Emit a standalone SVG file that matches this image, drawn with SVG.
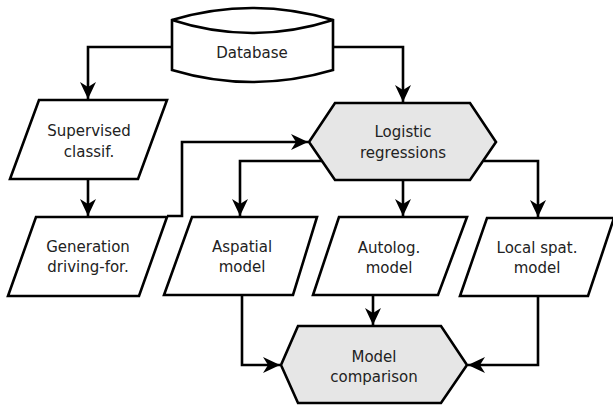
<svg xmlns="http://www.w3.org/2000/svg" width="613" height="410" viewBox="0 0 613 410">
  <style>
    .shape { fill: #ffffff; stroke: #000000; stroke-width: 2.6; stroke-linejoin: miter; }
    .proc { fill: #e6e6e6; stroke: #000000; stroke-width: 2.6; }
    .label { font-family: "DejaVu Sans", Verdana, sans-serif; font-size: 15px; fill: #222222; text-anchor: middle; }
    .link { fill: none; stroke: #000000; stroke-width: 2.6; }
  </style>
  <defs>
    <marker id="arrow" markerUnits="userSpaceOnUse" markerWidth="18" markerHeight="18" viewBox="0 0 18 18" refX="17" refY="9" orient="auto">
      <path d="M0,1 L17,9 L0,17 L5,9 z" fill="#000000"/>
    </marker>
  </defs>
  <rect width="613" height="410" fill="#ffffff"/>

  <!-- connectors -->
  <g id="connectors">
    <path class="link" d="M172,47 H88 V99" marker-end="url(#arrow)"/>
    <path class="link" d="M333,47 H403 V102" marker-end="url(#arrow)"/>
    <path class="link" d="M88,179 V216" marker-end="url(#arrow)"/>
    <path class="link" d="M167,216 H182 V142 H308" marker-end="url(#arrow)"/>
    <path class="link" d="M322,161 H240 V216" marker-end="url(#arrow)"/>
    <path class="link" d="M403,180 V216" marker-end="url(#arrow)"/>
    <path class="link" d="M484,161 H538 V217" marker-end="url(#arrow)"/>
    <path class="link" d="M242,296 V365 H280" marker-end="url(#arrow)"/>
    <path class="link" d="M373,296 V325" marker-end="url(#arrow)"/>
    <path class="link" d="M538,296 V365 H468" marker-end="url(#arrow)"/>
  </g>

  <!-- Database -->
  <g id="database">
    <path class="shape" d="M172,20 Q252,-4 333,20 V70 Q252,94 172,70 Z"/>
    <path class="shape" fill="none" d="M172,20 Q252,46 333,20"/>
    <text class="label" x="252" y="58">Database</text>
  </g>

  <!-- Supervised classification -->
  <g id="supervised">
    <polygon class="shape" points="39,100 167,100 138,179 10,179"/>
    <text class="label" x="89" y="136">Supervised</text>
    <text class="label" x="89" y="157">classif.</text>
  </g>

  <!-- Generation of driving forces -->
  <g id="generation">
    <polygon class="shape" points="36,217 167,217 139,296 8,296"/>
    <text class="label" x="88" y="252">Generation</text>
    <text class="label" x="88" y="272">driving-for.</text>
  </g>

  <!-- Logistic regressions -->
  <g id="logistic">
    <polygon class="proc" points="335,103 470,103 496,142 470,180 335,180 309,142"/>
    <text class="label" x="403" y="137">Logistic</text>
    <text class="label" x="403" y="158">regressions</text>
  </g>

  <!-- Aspatial model -->
  <g id="aspatial">
    <polygon class="shape" points="192,217 317,217 293,295 164,295"/>
    <text class="label" x="242" y="252">Aspatial</text>
    <text class="label" x="242" y="272">model</text>
  </g>

  <!-- Autologistic model -->
  <g id="autolog">
    <polygon class="shape" points="339,217 467,217 438,295 313,295"/>
    <text class="label" x="389" y="253">Autolog.</text>
    <text class="label" x="389" y="273">model</text>
  </g>

  <!-- Local spatial model -->
  <g id="localspat">
    <polygon class="shape" points="487,218 614,218 588,296 460,296"/>
    <text class="label" x="537" y="253">Local spat.</text>
    <text class="label" x="537" y="273">model</text>
  </g>

  <!-- Model comparison -->
  <g id="comparison">
    <polygon class="proc" points="298,326 441,326 467,365 441,403 298,403 281,365"/>
    <text class="label" x="374" y="362">Model</text>
    <text class="label" x="374" y="382">comparison</text>
  </g>
</svg>
